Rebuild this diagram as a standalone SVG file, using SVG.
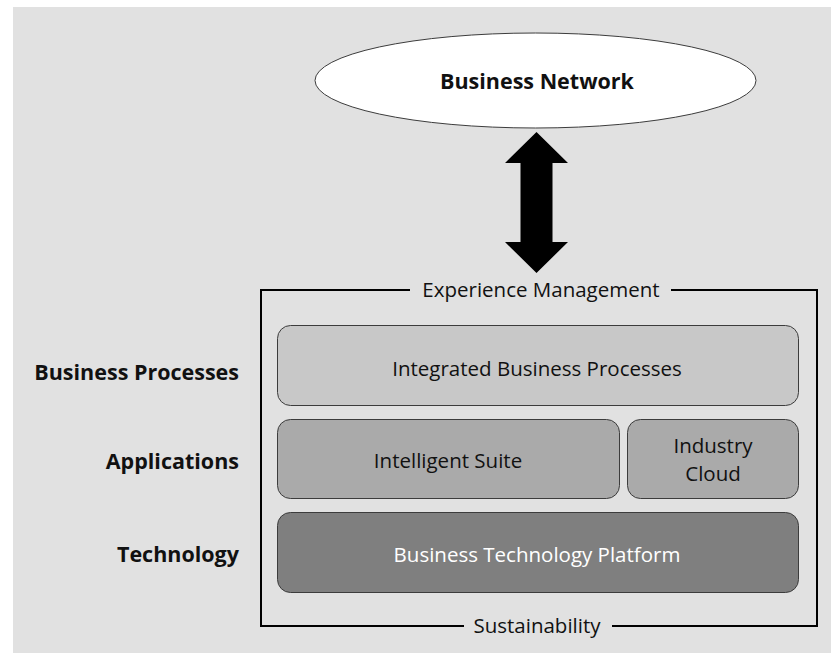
<svg xmlns="http://www.w3.org/2000/svg" width="831" height="653" viewBox="0 0 831 653">
  <style>
    .bg { fill: #e1e1e1; }
    .box { stroke: #3c3c3c; stroke-width: 1; }
    .frame { fill: none; stroke: #000; stroke-width: 2; }
    .t { font-family: "Open Sans", "Noto Sans", "Liberation Sans", sans-serif; text-anchor: middle; fill: #111; }
    .reg { font-size: 20.5px; }
    .bold { font-size: 21.5px; font-weight: bold; }
    .side { font-family: "Open Sans", "Noto Sans", "Liberation Sans", sans-serif; font-size: 21.5px; font-weight: bold; text-anchor: end; fill: #111; }
  </style>

  <rect class="bg" x="13" y="7" width="818" height="646"/>

  <!-- top node -->
  <g id="business-network">
    <ellipse cx="535.5" cy="80.5" rx="220.5" ry="47.5" fill="#fff" stroke="#3c3c3c" stroke-width="1"/>
    <text class="t bold" x="537" y="89">Business Network</text>
  </g>

  <!-- two-way link between network and stack -->
  <g id="connectors">
    <polygon points="536.5,132 568,163 552.5,163 552.5,242 568,242 536.5,273 505,242 520.5,242 520.5,163 505,163" fill="#000"/>
  </g>

  <!-- enclosing frame with top and bottom captions -->
  <g id="frame">
    <path class="frame" d="M410,290 H261 V626 H464 M612,626 H817 V290 H671"/>
    <text class="t reg" x="541" y="297">Experience Management</text>
    <text class="t reg" x="537" y="633">Sustainability</text>
  </g>

  <g id="integrated-business-processes">
    <rect class="box" x="277.5" y="325.5" width="521" height="80" rx="13" fill="#c8c8c8"/>
    <text class="t reg" x="537" y="376">Integrated Business Processes</text>
  </g>

  <g id="intelligent-suite">
    <rect class="box" x="277.5" y="419.5" width="342" height="79" rx="13" fill="#aaaaaa"/>
    <text class="t reg" x="448" y="468">Intelligent Suite</text>
  </g>

  <g id="industry-cloud">
    <rect class="box" x="627.5" y="419.5" width="171" height="79" rx="13" fill="#aaaaaa"/>
    <text class="t reg" x="713" y="453">Industry</text>
    <text class="t reg" x="713" y="481">Cloud</text>
  </g>

  <g id="business-technology-platform">
    <rect class="box" x="277.5" y="512.5" width="521" height="80" rx="13" fill="#7f7f7f"/>
    <text class="t reg" x="537" y="562" style="fill:#fff">Business Technology Platform</text>
  </g>

  <!-- layer captions -->
  <g id="layer-labels">
    <text class="side" x="239" y="380">Business Processes</text>
    <text class="side" x="239" y="469">Applications</text>
    <text class="side" x="239" y="562">Technology</text>
  </g>
</svg>
